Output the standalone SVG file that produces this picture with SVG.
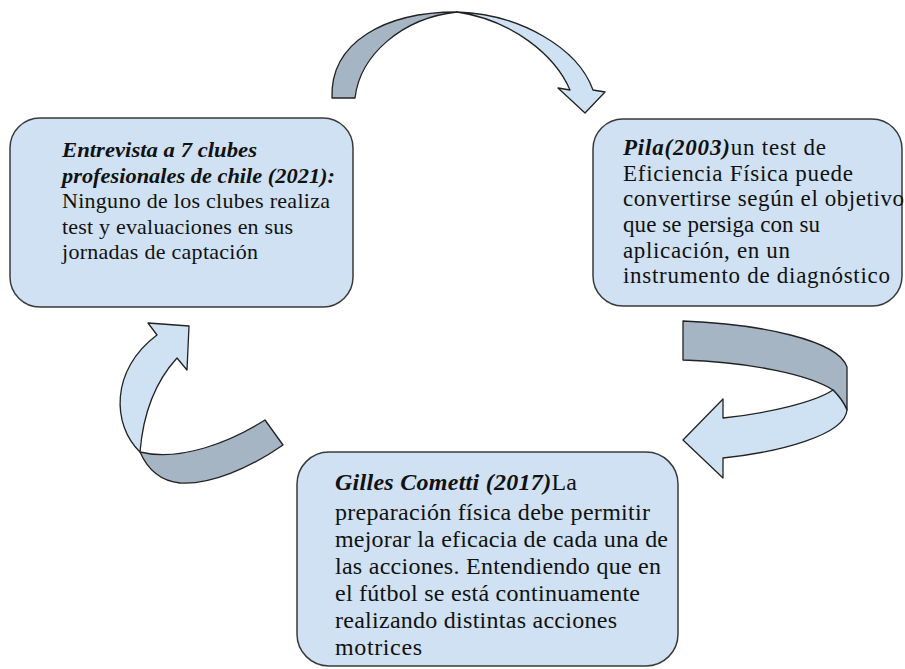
<svg xmlns="http://www.w3.org/2000/svg" width="905" height="669" viewBox="0 0 905 669">
<style>
.box{fill:#cfe1f2;stroke:#3a3a3a;stroke-width:1.5}
.dk{fill:#a5b5c3;stroke:#222;stroke-width:1.3;stroke-linejoin:round}
.lt{fill:#cfe2f3;stroke:#222;stroke-width:1.3;stroke-linejoin:round}
text{font-family:"Liberation Serif","Times New Roman",serif;font-size:22px;fill:#111}
.r{font-size:23px}
.b{font-size:24px}
.bi{font-weight:bold;font-style:italic}
</style>
<rect width="905" height="669" fill="#fff"/>
<g id="connectors">
  <g id="arrow-top">
    <path class="dk" d="M332,98 C330,42 385,12 457,12 C402,18 360,55 355,98 Z"/>
    <path class="lt" d="M457,12 C520,14 578,48 593,90 L605,92 L585,113 L558,88 L570,90 C555,55 512,20 457,12 Z"/>
  </g>
  <g id="arrow-right">
    <path class="dk" d="M683,321 C760,324 838,340 847,367 L847,410 C843,400 838,395 833,390 C810,375 750,362 683,360 Z"/>
    <path class="lt" d="M833,390 C838,395 843,400 847,410 C845,435 780,452 723,458 L723,478 L683,440 L723,399 L723,418 C770,413 815,402 833,390 Z"/>
  </g>
  <g id="arrow-left">
    <path class="dk" d="M140,452 C180,462 230,442 265,420 L283,445 C250,468 210,485 180,483 C160,481 147,468 140,452 Z"/>
    <path class="lt" d="M140,452 C112,425 110,370 157,335 L148,323 L189,326 L187,370 L177,358 C155,382 143,415 140,452 Z"/>
  </g>
</g>
<g id="node-left">
  <rect class="box" x="10" y="118" width="343" height="189" rx="30"/>
  <text x="62" y="157" textLength="195" lengthAdjust="spacingAndGlyphs" class="bi">Entrevista a 7 clubes</text>
  <text x="62" y="182.5" textLength="273" lengthAdjust="spacingAndGlyphs" class="bi">profesionales de chile (2021):</text>
  <text x="62" y="208" textLength="268" lengthAdjust="spacing">Ninguno de los clubes realiza</text>
  <text x="62" y="233.5" textLength="231" lengthAdjust="spacing">test y evaluaciones en sus</text>
  <text x="62" y="259" textLength="196" lengthAdjust="spacing">jornadas de captación</text>
</g>
<g id="node-right">
  <rect class="box" x="593" y="119" width="309" height="187" rx="30"/>
  <text x="623" y="155" textLength="203" lengthAdjust="spacing" class="r"><tspan class="bi">Pila(2003)</tspan>un test de</text>
  <text x="623" y="180.7" textLength="230" lengthAdjust="spacing" class="r">Eficiencia Física puede</text>
  <text x="623" y="206.4" textLength="281" lengthAdjust="spacing" class="r">convertirse según el objetivo</text>
  <text x="623" y="232" textLength="197" lengthAdjust="spacing" class="r">que se persiga con su</text>
  <text x="623" y="257.7" textLength="167" lengthAdjust="spacing" class="r">aplicación, en un</text>
  <text x="623" y="283.4" textLength="267" lengthAdjust="spacing" class="r">instrumento de diagnóstico</text>
</g>
<g id="node-bottom">
  <rect class="box" x="297" y="452" width="381" height="214" rx="32"/>
  <text x="335" y="490" textLength="242" lengthAdjust="spacing" class="b"><tspan class="bi">Gilles Cometti (2017)</tspan>La</text>
  <text x="335" y="520" textLength="315" lengthAdjust="spacing" class="b">preparación física debe permitir</text>
  <text x="335" y="547" textLength="333" lengthAdjust="spacing" class="b">mejorar la eficacia de cada una de</text>
  <text x="335" y="574" textLength="326" lengthAdjust="spacing" class="b">las acciones. Entendiendo que en</text>
  <text x="335" y="601" textLength="305" lengthAdjust="spacing" class="b">el fútbol se está continuamente</text>
  <text x="335" y="628" textLength="282" lengthAdjust="spacing" class="b">realizando distintas acciones</text>
  <text x="335" y="655" textLength="87" lengthAdjust="spacing" class="b">motrices</text>
</g>
</svg>
